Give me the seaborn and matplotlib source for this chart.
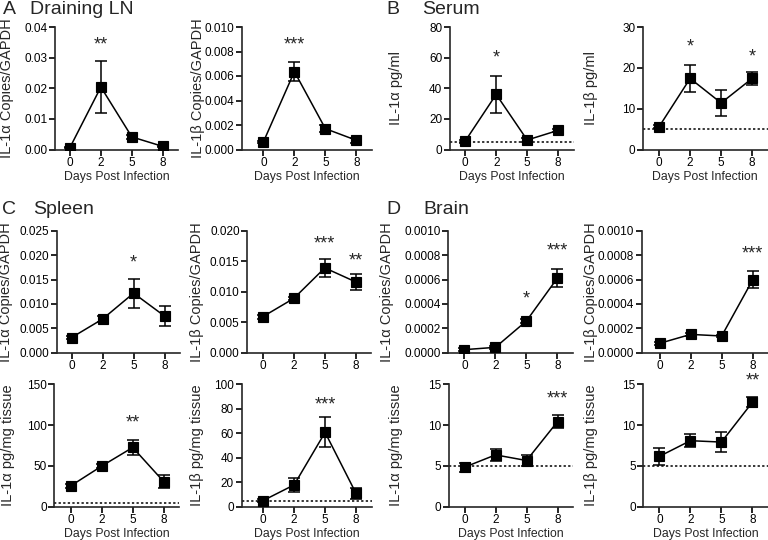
import numpy as np
import pandas as pd
import matplotlib
matplotlib.use("Agg")
import matplotlib.pyplot as plt
from matplotlib.ticker import FormatStrFormatter
import seaborn as sns

# ========== DATOS (media y SEM) ==========
days = ["0", "2", "5", "8"]

ln_il1a = [0.0006, 0.0204, 0.0041, 0.0010]
ln_il1a_sem = [0.0002, 0.0084, 0.0007, 0.0003]
ln_il1b = [0.00062, 0.00636, 0.0017, 0.00075]
ln_il1b_sem = [0.0001, 0.0008, 0.0003, 0.0002]

serum_il1a = [5.5, 36.0, 6.2, 12.5]
serum_il1a_sem = [1.0, 12.0, 1.0, 1.0]
serum_il1b = [5.6, 17.4, 11.4, 17.4]
serum_il1b_sem = [0.4, 3.2, 3.1, 1.6]

spleen_il1a = [0.0031, 0.0069, 0.0122, 0.0075]
spleen_il1a_sem = [0.0003, 0.0007, 0.0030, 0.0021]
spleen_il1b = [0.0059, 0.0089, 0.0139, 0.0116]
spleen_il1b_sem = [0.0003, 0.0003, 0.0015, 0.0013]

brain_il1a = [0.000025, 0.000044, 0.00026, 0.000612]
brain_il1a_sem = [0.00001, 0.00001, 0.00002, 0.00007]
brain_il1b = [0.000077, 0.00015, 0.000137, 0.000597]
brain_il1b_sem = [0.00001, 0.00001, 0.00001, 0.00007]

spleen_il1a_prot = [25.5, 49.8, 72.6, 30.7]
spleen_il1a_prot_sem = [2.0, 2.5, 9.2, 8.2]
spleen_il1b_prot = [5.0, 17.8, 60.7, 10.8]
spleen_il1b_prot_sem = [1.0, 5.4, 12.3, 4.8]

brain_il1a_prot = [4.84, 6.35, 5.66, 10.42]
brain_il1a_prot_sem = [0.55, 0.75, 0.67, 0.82]
brain_il1b_prot = [6.17, 8.09, 7.92, 12.8]
brain_il1b_prot_sem = [1.0, 0.82, 1.18, 0.6]

# ========== PANELES ==========
# (media, sem, etiqueta y, ymax, paso, formato, limite deteccion, estrellas)
paneles = [
    (ln_il1a, ln_il1a_sem, "IL-1α Copies/GAPDH", 0.04, 0.01, "%.2f", None,
     [(1, "**", 0.0340)]),
    (ln_il1b, ln_il1b_sem, "IL-1β Copies/GAPDH", 0.010, 0.002, "%.3f", None,
     [(1, "***", 0.0085)]),
    (serum_il1a, serum_il1a_sem, "IL-1α pg/ml", 80, 20, "%d", 5,
     [(1, "*", 59.5)]),
    (serum_il1b, serum_il1b_sem, "IL-1β pg/ml", 30, 10, "%d", 5,
     [(1, "*", 25.2), (3, "*", 22.6)]),
    (spleen_il1a, spleen_il1a_sem, "IL-1α Copies/GAPDH", 0.025, 0.005, "%.3f", None,
     [(2, "*", 0.0184)]),
    (spleen_il1b, spleen_il1b_sem, "IL-1β Copies/GAPDH", 0.020, 0.005, "%.3f", None,
     [(2, "***", 0.0179), (3, "**", 0.0151)]),
    (brain_il1a, brain_il1a_sem, "IL-1α Copies/GAPDH", 0.0010, 0.0002, "%.4f", None,
     [(2, "*", 0.000440), (3, "***", 0.000835)]),
    (brain_il1b, brain_il1b_sem, "IL-1β Copies/GAPDH", 0.0010, 0.0002, "%.4f", None,
     [(3, "***", 0.000808)]),
    (spleen_il1a_prot, spleen_il1a_prot_sem, "IL-1α pg/mg tissue", 150, 50, "%d", 5,
     [(2, "**", 103)]),
    (spleen_il1b_prot, spleen_il1b_prot_sem, "IL-1β pg/mg tissue", 100, 20, "%d", 5,
     [(2, "***", 83.5)]),
    (brain_il1a_prot, brain_il1a_prot_sem, "IL-1α pg/mg tissue", 15, 5, "%d", 5,
     [(3, "***", 13.2)]),
    (brain_il1b_prot, brain_il1b_prot_sem, "IL-1β pg/mg tissue", 15, 5, "%d", 5,
     [(3, "**", 15.35)]),
]

# ========== LAYOUT (pixeles) ==========
W, H = 768, 540
filas = [(27, 149.5), (230.7, 352.7), (384.3, 506.7)]
izq = [[55, 242, 450, 643], [56.7, 247.3, 448.3, 641.7], [54.3, 241.7, 449, 643.3]]
hueco = [[0.48, 0.69, 0.49, 0.52], [0.48, 0.50, 0.52, 0.58], [0.53, 0.69, 0.50, 0.52]]
# centro horizontal de cada etiqueta y en la referencia
ylab_x = [[7, 198, 396, 591], [6, 197, 387, 591], [8, 197, 396, 591]]
px_unidad = 31.0
derecha = 3.5

sns.set_style("ticks")
plt.rcParams["font.family"] = ["Liberation Sans", "DejaVu Sans"]
plt.rcParams["axes.linewidth"] = 1.2

fig = plt.figure(figsize=(W / 100, H / 100), dpi=100)

for i, (media, sem, ylab, ymax, paso, fmt, lod, estrellas) in enumerate(paneles):
    r, c = divmod(i, 4)
    top, bot = filas[r]
    x0 = izq[r][c]
    g = hueco[r][c]
    ancho = (g + derecha) * px_unidad
    ax = fig.add_axes([x0 / W, 1 - bot / H, ancho / W, (bot - top) / H])

    df = pd.DataFrame({"day": days, "valor": media})
    ax.errorbar(np.arange(len(days)), media, yerr=sem, fmt="none", ecolor="black",
                elinewidth=1.1, capsize=4.5, capthick=1.1, zorder=2)
    sns.pointplot(data=df, x="day", y="valor", order=days, color="black",
                  markers="s", errorbar=None, markersize=7, linewidth=1.1, ax=ax)
    for ln in ax.lines:
        ln.set_zorder(3)

    if lod is not None:
        ax.axhline(lod, ls=(0, (1.5, 1.5)), color="black", lw=1.1, zorder=1)

    for xi, txt, yy in estrellas:
        ax.text(xi, yy, txt, ha="center", va="center", fontsize=13, clip_on=False)

    ax.set_xlim(-g, derecha)
    ax.set_ylim(0, ymax)
    ax.set_yticks(np.arange(0, ymax + paso / 2, paso))
    ax.yaxis.set_major_formatter(FormatStrFormatter(fmt))
    ax.tick_params(labelsize=8.5, width=1.2, length=4, pad=1.5, colors="black")
    sns.despine(ax=ax)
    ax.set_ylabel(ylab, fontsize=10.5)
    # la etiqueta rotada se ancla por su lado derecho
    ax.yaxis.set_label_coords((ylab_x[r][c] + 7 - x0) / ancho, 0.5)
    if r == 1:
        ax.set_xlabel("")
    else:
        ax.set_xlabel("Days Post Infection", fontsize=8.8, labelpad=1.5)

# ========== TITULOS DE PANEL ==========
for letra, nombre, xl, xn, y in [("A", "Draining LN", 3, 30, 10),
                                 ("B", "Serum", 386, 422, 10),
                                 ("C", "Spleen", 2, 33, 209),
                                 ("D", "Brain", 386, 423, 209)]:
    fig.text(xl / W, 1 - y / H, letra, fontsize=14, va="center", ha="left")
    fig.text(xn / W, 1 - y / H, nombre, fontsize=14, va="center", ha="left")

fig.savefig("out.png", dpi=100)
plt.close(fig)
